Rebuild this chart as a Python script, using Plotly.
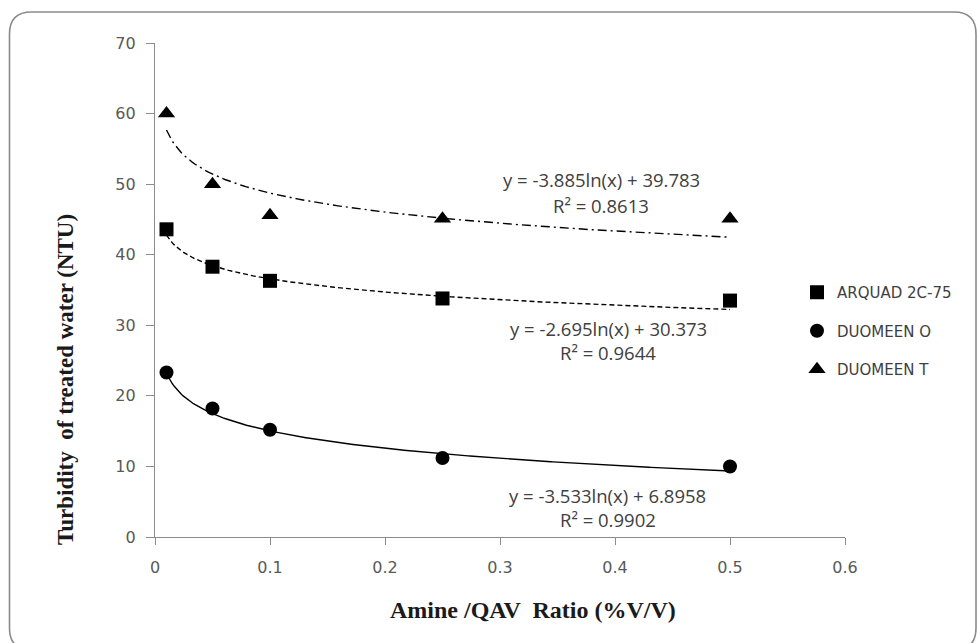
import numpy as np
import plotly.graph_objects as go

# ---- data ----
ratio = [0.01, 0.05, 0.1, 0.25, 0.5]
series_names = ["ARQUAD 2C-75", "DUOMEEN O", "DUOMEEN T"]
arquad = [43.6, 38.3, 36.3, 33.8, 33.5]
duomeen_o = [23.3, 18.2, 15.2, 11.2, 10.0]
duomeen_t = [60.0, 50.0, 45.6, 45.1, 45.1]
# logarithmic trendline coefficients y = a*ln(x) + b (as printed on the chart)
trend_a = [-2.695, -3.533, -3.885]
trend_b = [30.373, 6.8958, 39.783]
trend_r2 = ["0.9644", "0.9902", "0.8613"]
eq_labels = [
    "y = -2.695ln(x) + 30.373",
    "y = -3.533ln(x) + 6.8958",
    "y = -3.885ln(x) + 39.783",
]
x_ticks = [0, 0.1, 0.2, 0.3, 0.4, 0.5, 0.6]
y_ticks = [0, 10, 20, 30, 40, 50, 60, 70]
x_title = "Amine /QAV  Ratio (%V/V)"
y_title = "Turbidity  of treated water (NTU)"

# ---- layout geometry (pixels) ----
W, H = 978, 643
L, R, T, B = 155, 845, 43, 537

def px_x(p):
    return (p - L) / (R - L)

def px_y(p):
    return (B - p) / (B - T)

series = [arquad, duomeen_o, duomeen_t]
symbols = ["square", "circle", "triangle-up"]
msizes = [14, 14, 15]
dashes = ["5px,3px", "solid", "9px,4px,2px,4px"]

fig = go.Figure()

xs = np.linspace(ratio[0], ratio[-1], 300)
for i in range(3):
    ys = trend_a[i] * np.log(xs) + trend_b[i]
    fig.add_trace(go.Scatter(
        x=xs, y=ys, mode="lines",
        line=dict(color="black", width=1.4, dash=dashes[i]),
        showlegend=False, hoverinfo="skip"))

for i in range(3):
    fig.add_trace(go.Scatter(
        x=ratio, y=series[i], mode="markers", name=series_names[i],
        legendgroup=series_names[i],
        marker=dict(symbol=symbols[i], size=msizes[i], color="black",
                    line=dict(width=0))))

eq_pos = [  # (x, y_eq, y_r2) in data coords
    (0.394, 29.6, 26.1),
    (0.3935, 5.95, 2.45),
    (0.388, 50.7, 47.0),
]
eq_font = dict(family="Open Sans", size=18.5, color="#404040")
for i in range(3):
    x0, ye, yr = eq_pos[i]
    fig.add_annotation(x=x0, y=ye, text=eq_labels[i], showarrow=False, font=eq_font)
    fig.add_annotation(x=x0, y=yr, text="R\u00b2 = " + trend_r2[i], showarrow=False,
                       font=eq_font)

# axis titles (placed as in the reference, off-centre)
fig.add_annotation(x=px_x(533), y=px_y(610), xref="paper", yref="paper",
                   xanchor="center", yanchor="middle",
                   text="<b>" + x_title + "</b>", showarrow=False,
                   font=dict(family="Liberation Serif", size=24, color="#1a1a1a"))
fig.add_annotation(x=px_x(65), y=px_y(380), xref="paper", yref="paper",
                   xanchor="center", yanchor="middle",
                   text="<b>" + y_title + "</b>", showarrow=False, textangle=-90,
                   font=dict(family="Liberation Serif", size=23, color="#1a1a1a"))

# rounded outer border
bl, bt, br, bb, rad = 9.5, 12, 976, 650, 22
def P(x, y):
    return f"{px_x(x):.5f},{px_y(y):.5f}"
path = (f"M {P(bl, bt + rad)} Q {P(bl, bt)} {P(bl + rad, bt)} "
        f"L {P(br - rad, bt)} Q {P(br, bt)} {P(br, bt + rad)} "
        f"L {P(br, bb - rad)} Q {P(br, bb)} {P(br - rad, bb)} "
        f"L {P(bl + rad, bb)} Q {P(bl, bb)} {P(bl, bb - rad)} Z")
fig.add_shape(type="path", path=path, xref="paper", yref="paper",
              line=dict(color="#8a8a8a", width=1.6), layer="below")

axis_common = dict(
    showgrid=False, zeroline=False, showline=True,
    linecolor="#8c8c8c", linewidth=1.2,
    ticks="outside", tickcolor="#8c8c8c", tickwidth=1,
    tickfont=dict(family="DejaVu Sans", size=16, color="#595959"),
)

fig.update_layout(
    width=W, height=H,
    margin=dict(l=L, r=W - R, t=T, b=H - B, pad=0),
    plot_bgcolor="white", paper_bgcolor="white",
    xaxis=dict(range=[0, 0.6], tickvals=x_ticks,
               ticktext=[f"{v:g}" for v in x_ticks],
               ticklen=7, ticklabelstandoff=9,
               **axis_common),
    yaxis=dict(range=[0, 70], tickvals=y_ticks, ticklen=8, ticklabelstandoff=7,
               **axis_common),
    legend=dict(x=px_x(797), y=px_y(276), xanchor="left", yanchor="top",
                traceorder="grouped", tracegroupgap=16,
                font=dict(family="DejaVu Sans", size=15, color="#404040"),
                bgcolor="rgba(0,0,0,0)", itemwidth=30),
    showlegend=True,
)

fig.write_html("out.html")
